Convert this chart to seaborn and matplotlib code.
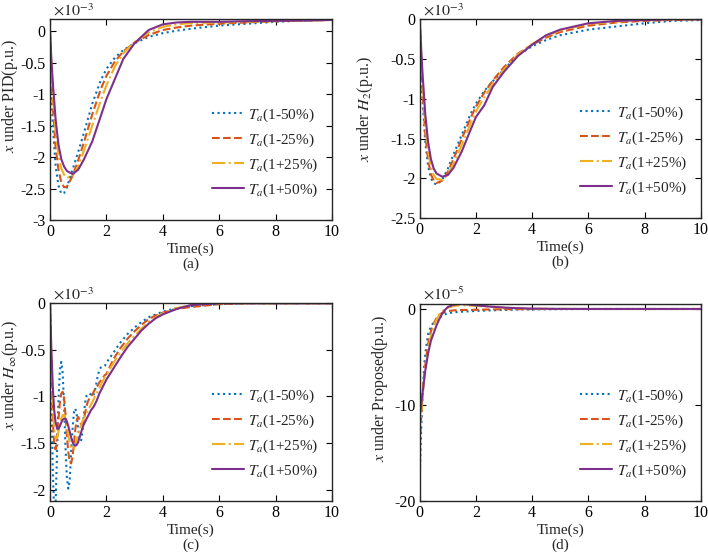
import numpy as np
import pandas as pd
import seaborn as sns
import matplotlib

matplotlib.use("Agg")
import matplotlib.pyplot as plt
from matplotlib.ticker import FuncFormatter

# values (y in units of the axis multiplier)
labels = [r"$T_a$(1-50%)", r"$T_a$(1-25%)", r"$T_a$(1+25%)", r"$T_a$(1+50%)"]
colors = ["#0072BD", "#D95319", "#EDB120", "#7E2F8E"]
styles = [":", "--", "-.", "-"]

# (a) PID, x1e-3
t_a = [0, 0.05, 0.1, 0.2, 0.3, 0.4, 0.5, 0.6, 0.8, 1.0, 1.2, 1.5, 1.8, 2.0, 2.3,
       2.6, 3.0, 3.5, 4.0, 4.5, 5, 6, 7, 8, 9, 10]
pid_m50 = [0, -0.9, -1.5, -2.15, -2.45, -2.58, -2.57, -2.48, -2.2, -1.92, -1.62, -1.15,
           -0.78, -0.6, -0.42, -0.3, -0.19, -0.09, -0.03, 0.01, 0.04, 0.09, 0.12, 0.15, 0.17, 0.18]
pid_m25 = [0, -0.7, -1.2, -1.85, -2.2, -2.4, -2.48, -2.47, -2.3, -2.05, -1.77, -1.32,
           -0.92, -0.71, -0.48, -0.32, -0.18, -0.06, 0.02, 0.06, 0.09, 0.12, 0.14, 0.16, 0.17, 0.18]
pid_p25 = [0, -0.55, -1.0, -1.6, -1.97, -2.18, -2.28, -2.33, -2.3, -2.15, -1.9, -1.5,
           -1.1, -0.86, -0.56, -0.35, -0.17, -0.02, 0.07, 0.11, 0.13, 0.14, 0.15, 0.16, 0.17, 0.18]
pid_p50 = [0, -0.45, -0.81, -1.4, -1.8, -2.03, -2.15, -2.22, -2.27, -2.2, -2.04, -1.75,
           -1.35, -1.08, -0.76, -0.44, -0.19, 0.02, 0.11, 0.14, 0.15, 0.15, 0.16, 0.165, 0.17, 0.18]

# (b) H2, x1e-3
t_b = t_a
h2_m50 = [0, -0.6, -1.0, -1.55, -1.85, -2.0, -2.06, -2.08, -2.02, -1.88, -1.7, -1.45,
          -1.2, -1.06, -0.9, -0.78, -0.63, -0.45, -0.34, -0.26, -0.2, -0.13, -0.09, -0.05, -0.02, -0.01]
h2_m25 = [0, -0.5, -0.9, -1.45, -1.78, -1.95, -2.03, -2.06, -2.03, -1.92, -1.76, -1.5,
          -1.25, -1.1, -0.92, -0.77, -0.6, -0.43, -0.32, -0.23, -0.16, -0.08, -0.04, -0.02, -0.01, 0]
h2_p25 = [0, -0.42, -0.78, -1.32, -1.66, -1.86, -1.96, -2.01, -2.02, -1.95, -1.82, -1.58,
          -1.32, -1.16, -0.98, -0.82, -0.63, -0.44, -0.31, -0.21, -0.14, -0.06, -0.03, -0.01, 0, 0]
h2_p50 = [0, -0.35, -0.68, -1.2, -1.55, -1.76, -1.88, -1.94, -1.98, -1.96, -1.87, -1.66,
          -1.4, -1.23, -1.08, -0.85, -0.66, -0.46, -0.32, -0.2, -0.13, -0.05, -0.02, -0.01, 0, 0]

# (c) H-infinity, x1e-3
t_c = [0, 0.05, 0.1, 0.15, 0.2, 0.25, 0.3, 0.35, 0.4, 0.45, 0.5, 0.55, 0.6, 0.65, 0.7,
       0.75, 0.8, 0.85, 0.9, 0.95, 1.0, 1.05, 1.1, 1.15, 1.2, 1.25, 1.3, 1.35, 1.4, 1.45,
       1.5, 1.55, 1.6, 1.65, 1.7, 1.75, 1.8, 1.85, 1.9, 1.95, 2.0,
       2.25, 2.5, 2.75, 3.0, 3.25, 3.5, 3.75, 4.0, 4.5, 5, 6, 7, 8, 9, 10]
hinf_m50 = [0, -1.0, -1.8, -2.25, -2.15, -1.6, -1.05, -0.72, -0.63, -0.75, -1.1, -1.55,
            -1.88, -1.99, -1.9, -1.6, -1.35, -1.17, -1.13, -1.2, -1.35, -1.46, -1.48, -1.38,
            -1.2, -1.06, -0.99, -0.97, -0.97, -0.98, -1.0, -0.98, -0.93, -0.85, -0.77, -0.72,
            -0.69, -0.68, -0.68, -0.67, -0.64,
            -0.53, -0.42, -0.33, -0.26, -0.2, -0.15, -0.12, -0.09, -0.05, -0.03, -0.01, 0, 0, 0, 0]
hinf_m25 = [0, -0.75, -1.25, -1.52, -1.57, -1.45, -1.25, -1.07, -0.97, -0.95, -1.02, -1.2,
            -1.42, -1.6, -1.7, -1.72, -1.65, -1.5, -1.35, -1.25, -1.22, -1.25, -1.3, -1.3,
            -1.25, -1.17, -1.1, -1.05, -1.02, -1.0, -0.98, -0.95, -0.92, -0.9, -0.88, -0.85,
            -0.83, -0.81, -0.79, -0.77, -0.76,
            -0.6, -0.48, -0.38, -0.3, -0.23, -0.17, -0.13, -0.1, -0.06, -0.04, -0.01, 0, 0, 0, 0]
hinf_p25 = [0, -0.65, -1.1, -1.35, -1.45, -1.45, -1.38, -1.3, -1.24, -1.2, -1.2, -1.24,
            -1.32, -1.42, -1.5, -1.55, -1.57, -1.56, -1.52, -1.46, -1.4, -1.35, -1.31, -1.27,
            -1.24, -1.21, -1.18, -1.15, -1.12, -1.09, -1.06, -1.03, -1.0, -0.97, -0.94, -0.91,
            -0.88, -0.85, -0.82, -0.79, -0.77,
            -0.64, -0.53, -0.43, -0.35, -0.27, -0.2, -0.15, -0.11, -0.05, -0.02, 0, 0, 0, 0, 0]
hinf_p50 = [0, -0.5, -0.9, -1.15, -1.28, -1.34, -1.35, -1.32, -1.28, -1.25, -1.24, -1.24,
            -1.27, -1.32, -1.38, -1.44, -1.49, -1.52, -1.53, -1.52, -1.49, -1.44, -1.39, -1.34,
            -1.3, -1.27, -1.24, -1.21, -1.18, -1.15, -1.13, -1.11, -1.08, -1.05, -1.01, -0.97,
            -0.94, -0.91, -0.88, -0.85, -0.82,
            -0.7, -0.58, -0.47, -0.38, -0.29, -0.22, -0.16, -0.12, -0.06, -0.02, 0, 0, 0, 0, 0]

# (d) Proposed, x1e-5
t_d = [0, 0.01, 0.05, 0.1, 0.15, 0.2, 0.3, 0.4, 0.5, 0.6, 0.7, 0.8, 0.9, 1.0, 1.2, 1.4,
       1.6, 1.8, 2.0, 2.5, 3.0, 3.5, 4, 5, 6, 7, 8, 9, 10]
prop_m50 = [0, -16.6, -12.8, -9.3, -6.3, -4.6, -2.6, -1.8, -1.4, -1.15, -0.9, -0.7, -0.55,
            -0.45, -0.35, -0.3, -0.27, -0.24, -0.2, -0.15, -0.1, -0.06, -0.04, -0.02, 0, 0, 0, 0, 0]
prop_m25 = [0, -14.0, -11.5, -9.0, -7.2, -5.8, -3.6, -2.3, -1.5, -0.95, -0.6, -0.4, -0.3,
            -0.22, -0.15, -0.12, -0.1, -0.1, -0.08, -0.05, -0.03, -0.02, -0.01, 0, 0, 0, 0, 0, 0]
prop_p25 = [0, -12.3, -11.0, -9.2, -7.6, -6.3, -4.2, -2.8, -1.8, -1.1, -0.6, -0.25, 0.0,
            0.15, 0.3, 0.38, 0.38, 0.35, 0.32, 0.22, 0.13, 0.07, 0.03, 0.01, 0, 0, 0, 0, 0]
prop_p50 = [0, -11.0, -10.2, -8.8, -7.6, -6.4, -4.6, -3.3, -2.5, -1.7, -1.05, -0.5, -0.1,
            0.2, 0.45, 0.52, 0.5, 0.45, 0.38, 0.25, 0.15, 0.08, 0.04, 0.01, 0, 0, 0, 0, 0]

sns.set_theme(style="ticks")
plt.rcParams["font.family"] = ["Liberation Serif", "DejaVu Serif"]
plt.rcParams["mathtext.fontset"] = "stix"
plt.rcParams["axes.unicode_minus"] = False
plt.rcParams["font.size"] = 11

fig = plt.figure(figsize=(7.08, 5.58), dpi=100)

panels = [
    dict(rect=[0.0706, 0.6057, 0.3983, 0.3597], t=t_a, ys=[pid_m50, pid_m25, pid_p25, pid_p50],
         ylim=(-3, 0.19), yticks=np.arange(-3, 0.01, 0.5), mult=r"$\times10^{-3}$",
         ylabel=r"$x$ under PID(p.u.)", tag="(a)", lab=(-0.105, 0.618)),
    dict(rect=[0.5928, 0.6093, 0.3969, 0.3561], t=t_b, ys=[h2_m50, h2_m25, h2_p25, h2_p50],
         ylim=(-2.5, 0), yticks=np.arange(-2.5, 0.01, 0.5), mult=r"$\times10^{-3}$",
         ylabel=r"$x$ under $H_2$(p.u.)", tag="(b)", lab=(-0.160, 0.549)),
    dict(rect=[0.0706, 0.1027, 0.3983, 0.3538], t=t_c, ys=[hinf_m50, hinf_m25, hinf_p25, hinf_p50],
         ylim=(-2.12, 0), yticks=np.arange(-2, 0.01, 0.5), mult=r"$\times10^{-3}$",
         ylabel=r"$x$ under $H_\infty$(p.u.)", tag="(c)", lab=(-0.105, 0.637)),
    dict(rect=[0.5928, 0.1027, 0.3969, 0.3525], t=t_d, ys=[prop_m50, prop_m25, prop_p25, prop_p50],
         ylim=(-20, 0.52), yticks=[-20, -10, 0], mult=r"$\times10^{-5}$",
         ylabel=r"$x$ under Proposed(p.u.)", tag="(d)", lab=(-0.105, 0.574)),
]

for p in panels:
    ax = fig.add_axes(p["rect"])
    for y, lab, c, ls in zip(p["ys"], labels, colors, styles):
        sns.lineplot(x=p["t"], y=y, ax=ax, color=c, linestyle=ls, linewidth=1.5, label=lab)
    ax.set_xlim(0, 10)
    ax.set_ylim(*p["ylim"])
    ax.set_xticks([0, 2, 4, 6, 8, 10])
    ax.set_yticks(p["yticks"])
    ax.yaxis.set_major_formatter(FuncFormatter(lambda v, pos: f"{round(v, 2):g}"))
    ax.tick_params(direction="in", top=True, right=True, length=4, width=0.8,
                   labelsize=11.5, colors="black", pad=3)
    for s in ax.spines.values():
        s.set_color("#262626")
        s.set_linewidth(1.0)
    ax.set_xlabel("Time(s)\n" + p["tag"], fontsize=11, labelpad=2, linespacing=1.15)
    ax.set_ylabel(p["ylabel"], fontsize=11.5)
    ax.yaxis.set_label_coords(*p["lab"])
    ax.text(0.01, 1.0, p["mult"], transform=ax.transAxes, ha="left", va="bottom", fontsize=11.5)
    ax.legend(loc="lower right", bbox_to_anchor=(0.985, 0.06), frameon=False, fontsize=11,
              handlelength=2.1, labelspacing=0.5, handletextpad=0.3, borderaxespad=0.2)

fig.savefig("out.png", dpi=100)
